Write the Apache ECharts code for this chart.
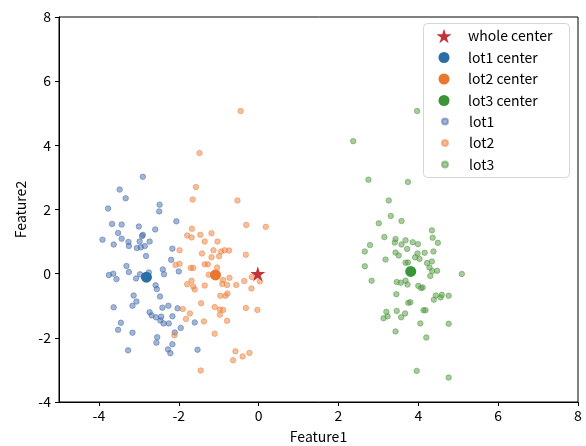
<!DOCTYPE html>
<html>
<head>
<meta charset="utf-8">
<script src="https://cdn.jsdelivr.net/npm/echarts@6/dist/echarts.min.js"></script>
<style>
html,body{margin:0;padding:0;background:#fff;}
#chart{width:586px;height:446px;}
</style>
</head>
<body>
<div id="chart"></div>
<script>
// ---- data ----
const xTicks = [-4, -2, 0, 2, 4, 6, 8];
const yTicks = [-4, -2, 0, 2, 4, 6, 8];
const xName = 'Feature1';
const yName = 'Feature2';
const seriesNames = ['whole center', 'lot1 center', 'lot2 center', 'lot3 center', 'lot1', 'lot2', 'lot3'];

const wholeCenter = [[-0.02, 0.0]];
const lot1Center = [[-2.81, -0.11]];
const lot2Center = [[-1.08, -0.04]];
const lot3Center = [[3.81, 0.07]];

const lot1 = [
  [-2.90, 3.02], [-3.48, 2.62], [-3.33, 2.35], [-3.77, 2.03], [-2.48, 2.15], [-2.49, 1.94],
  [-2.06, 1.63], [-3.67, 1.55], [-3.43, 1.53], [-3.00, 1.47], [-2.59, 1.38], [-3.52, 1.27],
  [-2.90, 1.21], [-2.92, 1.17], [-3.91, 1.06], [-3.43, 1.09], [-3.63, 0.91], [-3.26, 0.99],
  [-3.25, 0.86], [-2.98, 1.00], [-2.73, 1.00], [-3.05, 0.80], [-2.95, 0.82], [-2.85, 0.86],
  [-2.82, 0.55], [-2.16, 0.78], [-2.19, 0.43], [-2.00, 0.07], [-3.31, 0.24], [-2.40, 0.13],
  [-2.37, -0.02], [-3.25, 0.05], [-3.75, -0.04], [-3.64, 0.00], [-3.56, -0.17], [-3.07, -0.15],
  [-2.97, -0.02], [-2.75, 0.04], [-2.58, -0.36], [-2.55, -0.48], [-3.13, -0.68], [-2.47, -0.71],
  [-3.06, -0.87], [-3.16, -1.00], [-3.63, -1.05], [-2.41, -1.06], [-2.26, -1.00], [-2.03, -1.08],
  [-2.73, -1.20], [-2.68, -1.30], [-2.57, -1.36], [-2.44, -1.34], [-2.16, -1.33], [-2.46, -1.46],
  [-2.38, -1.55], [-2.25, -1.55], [-3.45, -1.53], [-3.52, -1.75], [-3.16, -1.84], [-2.10, -1.83],
  [-1.95, -1.69], [-1.60, -1.52], [-2.54, -1.98], [-2.56, -2.15], [-2.16, -2.20], [-3.27, -2.39],
  [-2.27, -2.36], [-2.21, -2.48], [-1.53, -2.37]
];

const lot2 = [
  [-0.45, 5.07], [-1.48, 3.76], [-1.57, 2.70], [-1.65, 2.31], [-0.53, 2.28], [-0.31, 1.52],
  [0.18, 1.46], [-1.67, 1.40], [-1.79, 1.19], [-1.68, 1.13], [-1.46, 1.21], [-1.18, 1.26],
  [-1.35, 1.00], [-1.03, 1.00], [-1.98, 0.73], [-1.13, 0.73], [-0.94, 0.69], [-0.85, 0.73],
  [-0.74, 0.72], [-1.42, 0.63], [-0.99, 0.54], [-1.18, 0.51], [-0.32, 0.59], [-2.08, 0.27],
  [-1.98, 0.31], [-1.35, 0.29], [-1.27, 0.29], [-1.70, 0.18], [-1.64, 0.18], [-1.04, 0.19],
  [-1.25, -0.03], [-0.89, -0.20], [-0.73, -0.13], [-1.68, -0.22], [-1.79, -0.33], [-1.64, -0.40],
  [-1.60, -0.49], [-1.35, -0.37], [-0.91, -0.32], [-0.79, -0.35], [-0.56, -0.35], [-0.36, -0.23],
  [-0.17, -0.10], [0.03, -0.24], [-0.18, -0.46], [-0.96, -0.69], [-0.83, -0.69], [-0.78, -0.62],
  [-1.44, -0.92], [-1.10, -1.04], [-0.97, -1.12], [-0.89, -1.13], [-0.97, -1.28], [-0.32, -1.07],
  [-0.03, -1.13], [-1.90, -1.10], [-1.72, -1.24], [-1.82, -1.41], [-1.37, -1.49], [-0.79, -1.47],
  [-1.10, -1.87], [-2.11, -1.92], [-0.58, -2.42], [-0.40, -2.58], [-0.23, -2.47], [-0.64, -2.70],
  [-1.45, -3.02]
];

const lot3 = [
  [3.97, 5.07], [2.37, 4.13], [2.75, 2.93], [3.74, 2.86], [3.26, 2.28], [3.31, 1.80],
  [3.58, 1.64], [3.01, 1.57], [4.34, 1.35], [4.36, 1.12], [3.15, 1.14], [3.43, 1.08],
  [3.41, 0.97], [3.58, 0.91], [3.68, 1.04], [3.86, 0.98], [3.99, 0.92], [4.49, 0.96],
  [2.79, 0.89], [2.66, 0.69], [3.72, 0.77], [3.43, 0.66], [3.51, 0.57], [3.98, 0.63],
  [4.16, 0.65], [4.38, 0.69], [3.92, 0.51], [4.03, 0.46], [4.34, 0.38], [4.22, 0.33],
  [3.18, 0.44], [3.68, 0.34], [3.74, 0.35], [2.66, 0.23], [4.28, 0.19], [4.35, 0.08],
  [4.47, 0.09], [4.30, -0.07], [5.09, -0.01], [2.83, -0.22], [3.46, -0.26], [3.56, -0.28],
  [3.68, -0.22], [3.73, -0.34], [4.00, -0.38], [4.07, -0.45], [4.11, -0.43], [3.45, -0.64],
  [4.44, -0.68], [4.59, -0.66], [4.76, -0.69], [4.39, -0.81], [4.56, -0.74], [3.75, -0.91],
  [3.80, -0.89], [3.20, -1.19], [3.46, -1.16], [3.67, -1.24], [4.13, -1.14], [4.18, -1.14],
  [3.23, -1.33], [3.13, -1.39], [3.57, -1.36], [4.05, -1.55], [4.76, -1.56], [3.43, -1.80],
  [4.20, -1.99], [3.96, -3.03], [4.76, -3.24]
];

// ---- styling ----
const FONT = '"Noto Sans CJK JP", "Liberation Sans", sans-serif';
const STAR = 'path://M10,0L12.245,6.91L19.511,6.91L13.633,11.18L15.878,18.09L10,13.82L4.122,18.09L6.367,11.18L0.489,6.91L7.755,6.91Z';
const colors = {
  whole: '#c4333a',
  c1: '#2a6ea6',
  c2: '#e9772d',
  c3: '#389638',
  p1: 'rgba(70,108,172,0.5)',
  p2: 'rgba(238,128,58,0.5)',
  p3: 'rgba(80,152,62,0.5)'
};

const chart = echarts.init(document.getElementById('chart'), null, {renderer: 'canvas'});

function smallSeries(name, data, col) {
  return {
    name: name, type: 'scatter', data: data, symbol: 'circle', symbolSize: 5.5, z: 2,
    itemStyle: {color: col, borderColor: col, borderWidth: 1, opacity: 1},
    emphasis: {disabled: true}, silent: true
  };
}
function centerSeries(name, data, col, symbol, size) {
  return {
    name: name, type: 'scatter', data: data, symbol: symbol, symbolSize: size, z: 5,
    itemStyle: {color: col, opacity: 1},
    emphasis: {disabled: true}, silent: true
  };
}

// legend rows
const rowY = [36, 57.5, 79, 100.5, 121.5, 143, 164.5];
const iconSizes = [15, 11, 11, 11, 6, 6, 6];
const iconCx = 444;
const textX = 468;
const legends = seriesNames.map((n, i) => {
  const w = iconSizes[i];
  return {
    show: true, z: 20, padding: 0, selectedMode: false,
    left: iconCx - w / 2, top: rowY[i] - 8,
    itemWidth: w, itemHeight: w,
    data: [{name: n}],
    textStyle: {fontFamily: FONT, fontSize: 14, color: '#000', lineHeight: 16,
      padding: [0, 0, 0, textX - (iconCx + w / 2 + 5)]}
  };
});

const option = {
  animation: false,
  backgroundColor: '#fff',
  textStyle: {fontFamily: FONT},
  grid: {left: 59, right: 8, top: 17, bottom: 44, containLabel: false, outerBoundsMode: 'none',
    show: true, borderColor: '#000', borderWidth: 1, backgroundColor: 'transparent'},
  xAxis: {
    type: 'value', min: -5, max: 8,
    name: xName, nameLocation: 'middle', nameGap: 28,
    nameTextStyle: {fontFamily: FONT, fontSize: 14, color: '#000'},
    axisLine: {show: true, onZero: false, lineStyle: {color: '#000', width: 1}},
    axisTick: {show: true, length: 4, lineStyle: {color: '#000'}, customValues: xTicks},
    axisLabel: {fontFamily: FONT, fontSize: 14, color: '#000', margin: 7, customValues: xTicks},
    splitLine: {show: false}
  },
  yAxis: {
    type: 'value', min: -4, max: 8, interval: 2,
    name: yName, nameLocation: 'middle', nameGap: 27,
    nameTextStyle: {fontFamily: FONT, fontSize: 14, color: '#000'},
    axisLine: {show: true, onZero: false, lineStyle: {color: '#000', width: 1}},
    axisTick: {show: true, length: 4, lineStyle: {color: '#000'}},
    axisLabel: {fontFamily: FONT, fontSize: 14, color: '#000', margin: 8},
    splitLine: {show: false}
  },
  legend: legends,
  graphic: [{
    type: 'rect', z: 10, left: 423, top: 23,
    shape: {width: 146, height: 154, r: 4},
    style: {fill: 'rgba(255,255,255,0.8)', stroke: '#d6d6d6', lineWidth: 1}
  }],
  series: [
    smallSeries(seriesNames[4], lot1, colors.p1),
    smallSeries(seriesNames[5], lot2, colors.p2),
    smallSeries(seriesNames[6], lot3, colors.p3),
    centerSeries(seriesNames[1], lot1Center, colors.c1, 'circle', 11),
    centerSeries(seriesNames[2], lot2Center, colors.c2, 'circle', 11),
    centerSeries(seriesNames[3], lot3Center, colors.c3, 'circle', 11),
    centerSeries(seriesNames[0], wholeCenter, colors.whole, STAR, 15)
  ]
};
chart.setOption(option);
</script>
</body>
</html>
